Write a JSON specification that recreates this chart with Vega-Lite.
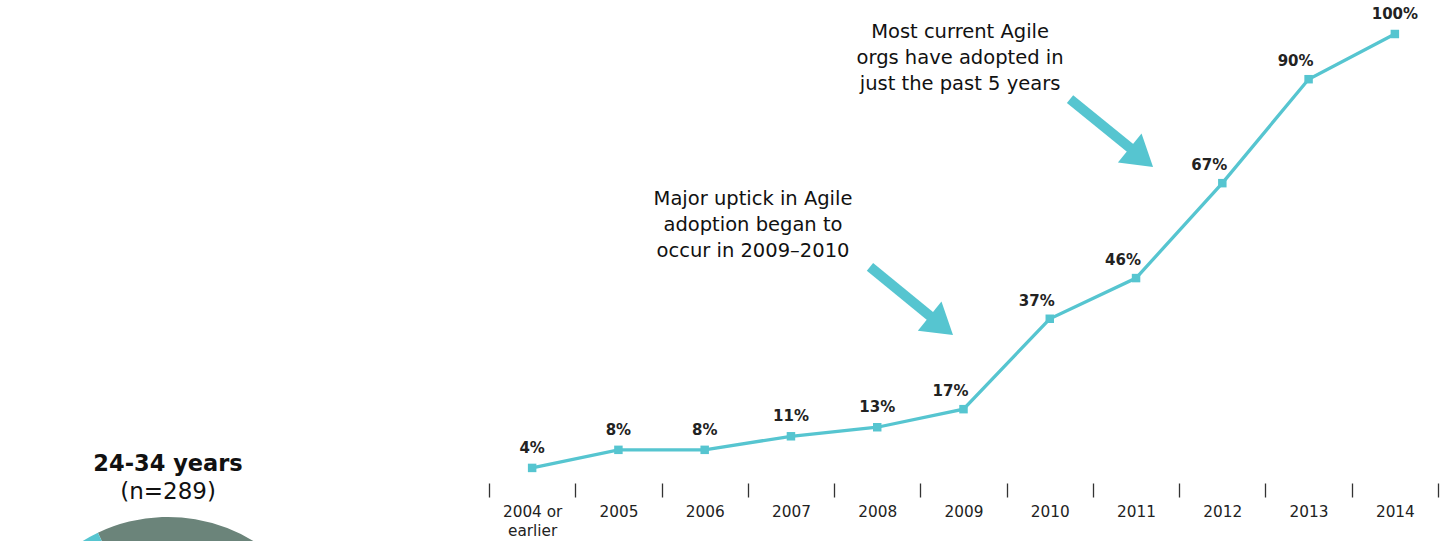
{
  "$schema": "https://vega.github.io/schema/vega-lite/v6.json",
  "width": 949,
  "height": 452,
  "autosize": {"type": "none"},
  "padding": {"left": 489, "top": 34, "right": 3, "bottom": 55},
  "background": "#ffffff",
  "config": {"view": {"stroke": null}, "font": "DejaVu Sans"},
  "datasets": {
    "adoption": [
      {"year": "2004 or earlier", "pct": 0.04},
      {"year": "2005", "pct": 0.08},
      {"year": "2006", "pct": 0.08},
      {"year": "2007", "pct": 0.11},
      {"year": "2008", "pct": 0.13},
      {"year": "2009", "pct": 0.17},
      {"year": "2010", "pct": 0.37},
      {"year": "2011", "pct": 0.46},
      {"year": "2012", "pct": 0.67},
      {"year": "2013", "pct": 0.90},
      {"year": "2014", "pct": 1.00}
    ],
    "notes": [
      {"note": "Most current Agile|orgs have adopted in|just the past 5 years", "ax": 5.46, "ay": 1.004},
      {"note": "Major uptick in Agile|adoption began to|occur in 2009–2010", "ax": 3.06, "ay": 0.635}
    ],
    "arrows": [
      {"arrow": "past 5 years", "ax": 6.735, "ay": 0.856, "ax2": 7.488, "ay2": 0.739, "tx": 7.697, "ty": 0.706},
      {"arrow": "2009-2010", "ax": 4.416, "ay": 0.485, "ax2": 5.17, "ay2": 0.367, "tx": 5.378, "ty": 0.334}
    ],
    "pie": [
      {"seg": "majority", "share": 78},
      {"seg": "other", "share": 22}
    ]
  },
  "resolve": {"scale": {"x": "independent"}, "axis": {"x": "independent"}},
  "layer": [
    {
      "data": {"name": "adoption"},
      "mark": {"type": "line", "color": "#56c5d0", "strokeWidth": 3.3, "point": {"shape": "square", "size": 72, "filled": true, "color": "#56c5d0", "opacity": 1}},
      "encoding": {
        "x": {
          "field": "year", "type": "ordinal", "sort": null, "bandPosition": 0.5,
          "scale": {"type": "band", "paddingInner": 0, "paddingOuter": 0, "domain": ["2004 or earlier", "2005", "2006", "2007", "2008", "2009", "2010", "2011", "2012", "2013", "2014"]},
          "axis": {
            "title": null, "domain": false, "grid": false, "ticks": true, "tickBand": "extent",
            "tickColor": "#333333", "tickWidth": 1.3, "tickSize": 14, "offset": -3,
            "labelAngle": 0, "labelFont": "DejaVu Sans", "labelFontSize": 15.3, "labelColor": "#222222",
            "labelPadding": 7, "labelBaseline": "top", "labelLineHeight": 19,
            "labelExpr": "datum.value === '2004 or earlier' ? ['2004 or', 'earlier'] : datum.label"
          }
        },
        "y": {"field": "pct", "type": "quantitative", "scale": {"domain": [0, 1], "nice": false}, "axis": null}
      }
    },
    {
      "data": {"name": "adoption"},
      "transform": [{"filter": {"not": {"field": "year", "oneOf": ["2009", "2010", "2011", "2012", "2013"]}}}],
      "mark": {"type": "text", "font": "DejaVu Sans", "fontSize": 15, "fontWeight": "bold", "color": "#222222", "align": "center", "baseline": "middle", "dy": -20},
      "encoding": {
        "x": {"field": "year", "type": "ordinal", "sort": null, "bandPosition": 0.5, "scale": {"type": "band", "paddingInner": 0, "paddingOuter": 0, "domain": ["2004 or earlier", "2005", "2006", "2007", "2008", "2009", "2010", "2011", "2012", "2013", "2014"]}, "axis": null},
        "y": {"field": "pct", "type": "quantitative", "scale": {"domain": [0, 1], "nice": false}, "axis": null},
        "text": {"field": "pct", "type": "quantitative", "format": ".0%"}
      }
    },
    {
      "data": {"name": "adoption"},
      "transform": [{"filter": {"field": "year", "oneOf": ["2009", "2010", "2011", "2012", "2013"]}}],
      "mark": {"type": "text", "font": "DejaVu Sans", "fontSize": 15, "fontWeight": "bold", "color": "#222222", "align": "center", "baseline": "middle", "dy": -18, "dx": -13},
      "encoding": {
        "x": {"field": "year", "type": "ordinal", "sort": null, "bandPosition": 0.5, "scale": {"type": "band", "paddingInner": 0, "paddingOuter": 0, "domain": ["2004 or earlier", "2005", "2006", "2007", "2008", "2009", "2010", "2011", "2012", "2013", "2014"]}, "axis": null},
        "y": {"field": "pct", "type": "quantitative", "scale": {"domain": [0, 1], "nice": false}, "axis": null},
        "text": {"field": "pct", "type": "quantitative", "format": ".0%"}
      }
    },
    {
      "data": {"name": "pie"},
      "mark": {"type": "arc", "radius": 163, "stroke": null},
      "encoding": {
        "x": {"datum": -3.72, "type": "quantitative", "scale": {"domain": [0, 11], "nice": false, "zero": false}, "axis": null},
        "y": {"datum": -0.429, "type": "quantitative", "scale": {"domain": [0, 1], "nice": false}, "axis": null},
        "theta": {"field": "share", "type": "quantitative", "stack": true, "scale": {"range": [-0.445, 5.838]}},
        "order": {"field": "share", "sort": "descending"},
        "color": {"field": "seg", "type": "nominal", "scale": {"domain": ["majority", "other"], "range": ["#6b847a", "#56c5d0"]}, "legend": null}
      }
    },
    {
      "data": {"values": [{"t": "24-34 years"}]},
      "mark": {"type": "text", "font": "DejaVu Sans", "fontSize": 22.5, "fontWeight": "bold", "color": "#111111", "align": "center", "baseline": "middle"},
      "encoding": {
        "x": {"datum": -3.72, "type": "quantitative", "scale": {"domain": [0, 11], "nice": false, "zero": false}, "axis": null},
        "y": {"datum": 0.0487, "type": "quantitative", "scale": {"domain": [0, 1], "nice": false}, "axis": null},
        "text": {"field": "t"}
      }
    },
    {
      "data": {"values": [{"t": "(n=289)"}]},
      "mark": {"type": "text", "font": "DejaVu Sans", "fontSize": 23, "color": "#111111", "align": "center", "baseline": "middle"},
      "encoding": {
        "x": {"datum": -3.72, "type": "quantitative", "scale": {"domain": [0, 11], "nice": false, "zero": false}, "axis": null},
        "y": {"datum": -0.0133, "type": "quantitative", "scale": {"domain": [0, 1], "nice": false}, "axis": null},
        "text": {"field": "t"}
      }
    },
    {
      "data": {"name": "notes"},
      "mark": {"type": "text", "font": "DejaVu Sans", "fontSize": 19.5, "color": "#111111", "align": "center", "baseline": "middle", "lineBreak": "|", "lineHeight": 26},
      "encoding": {
        "x": {"field": "ax", "type": "quantitative", "scale": {"domain": [0, 11], "nice": false, "zero": false}, "axis": null},
        "y": {"field": "ay", "type": "quantitative", "scale": {"domain": [0, 1], "nice": false}, "axis": null},
        "text": {"field": "note"}
      }
    },
    {
      "data": {"name": "arrows"},
      "mark": {"type": "rule", "color": "#56c5d0", "strokeWidth": 10, "strokeCap": "butt"},
      "encoding": {
        "x": {"field": "ax", "type": "quantitative", "scale": {"domain": [0, 11], "nice": false, "zero": false}, "axis": null},
        "y": {"field": "ay", "type": "quantitative", "scale": {"domain": [0, 1], "nice": false}, "axis": null},
        "x2": {"field": "ax2"},
        "y2": {"field": "ay2"}
      }
    },
    {
      "data": {"name": "arrows"},
      "mark": {"type": "point", "shape": "M0,0L-2,-1.25L-2,1.25Z", "size": 900, "filled": true, "color": "#56c5d0", "opacity": 1, "angle": 39, "strokeWidth": 0},
      "encoding": {
        "x": {"field": "tx", "type": "quantitative", "scale": {"domain": [0, 11], "nice": false, "zero": false}, "axis": null},
        "y": {"field": "ty", "type": "quantitative", "scale": {"domain": [0, 1], "nice": false}, "axis": null}
      }
    }
  ]
}
